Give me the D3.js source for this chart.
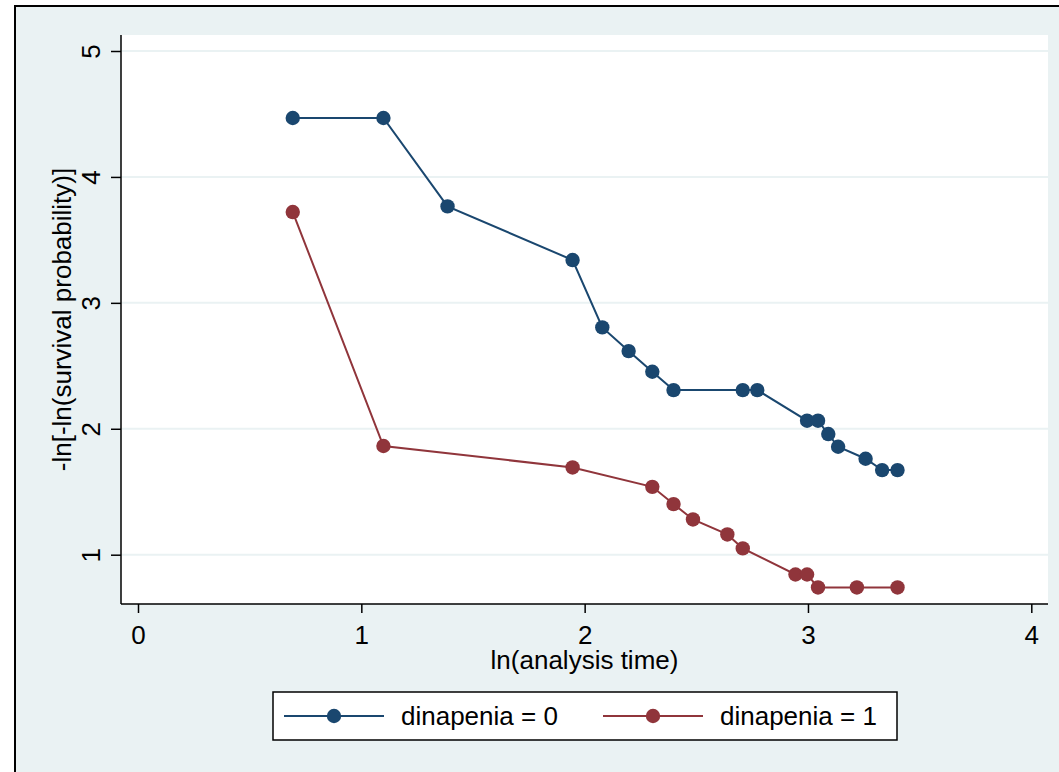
<!DOCTYPE html>
<html>
<head>
<meta charset="utf-8">
<script src="https://cdn.jsdelivr.net/npm/d3@7"></script>
<style>
  html, body { margin: 0; padding: 0; background: #ffffff; }
  svg { display: block; }
  text { font-family: "Liberation Sans", Arial, sans-serif; fill: #000; }
</style>
</head>
<body>
<svg id="chart" width="1059" height="772"></svg>
<script>
// ---- data (x = ln(analysis time), y = -ln[-ln(survival probability)]) ----
const seriesNames = ["dinapenia = 0", "dinapenia = 1"];
const xTicks = [0, 1, 2, 3, 4];
const yTicks = [1, 2, 3, 4, 5];
const x0 = [0.693, 1.099, 1.386, 1.946, 2.079, 2.197, 2.303, 2.398, 2.708, 2.773, 2.996, 3.045, 3.091, 3.135, 3.258, 3.332, 3.401];
const y0 = [4.468, 4.468, 3.766, 3.340, 2.805, 2.617, 2.453, 2.307, 2.307, 2.307, 2.064, 2.064, 1.958, 1.857, 1.762, 1.672, 1.672];
const x1 = [0.693, 1.099, 1.946, 2.303, 2.398, 2.485, 2.639, 2.708, 2.944, 2.996, 3.045, 3.219, 3.401];
const y1 = [3.721, 1.863, 1.693, 1.539, 1.402, 1.280, 1.161, 1.050, 0.843, 0.843, 0.740, 0.740, 0.740];
const colors = ["#1A476F", "#90353B"];

const series = [
  { name: seriesNames[0], pts: x0.map((v, i) => [v, y0[i]]), color: colors[0] },
  { name: seriesNames[1], pts: x1.map((v, i) => [v, y1[i]]), color: colors[1] }
];

const svg = d3.select("#chart");
const bg = "#EAF2F3";
const fs = 26;

// outer frame
svg.append("rect").attr("x", 15).attr("y", 6).attr("width", 1100).attr("height", 820)
  .attr("fill", bg).attr("stroke", "#000").attr("stroke-width", 2);

// plot region
const P = { left: 121, right: 1048, top: 35, bottom: 604 };
svg.append("rect").attr("x", P.left).attr("y", P.top)
  .attr("width", P.right - P.left).attr("height", P.bottom - P.top).attr("fill", "#fff");

const x = d3.scaleLinear().domain([0, 4]).range([138, 1031.3]);
const y = d3.scaleLinear().domain([1, 5]).range([554.7, 51]);

// gridlines
svg.append("g").selectAll("line").data(yTicks).join("line")
  .attr("x1", P.left).attr("x2", P.right)
  .attr("y1", d => y(d)).attr("y2", d => y(d))
  .attr("stroke", bg).attr("stroke-width", 2);

// series
const line = d3.line().x(d => x(d[0])).y(d => y(d[1]));
series.forEach(s => {
  svg.append("path").datum(s.pts).attr("d", line)
    .attr("fill", "none").attr("stroke", s.color).attr("stroke-width", 2);
  svg.append("g").selectAll("circle").data(s.pts).join("circle")
    .attr("cx", d => x(d[0])).attr("cy", d => y(d[1])).attr("r", 7.2)
    .attr("fill", s.color);
});

// y axis
const yAxis = svg.append("g").attr("transform", `translate(${P.left},0)`)
  .call(d3.axisLeft(y).tickValues(yTicks).tickSize(10).tickPadding(0).tickFormat(d3.format("d")));
yAxis.select(".domain").remove();
yAxis.selectAll(".tick line").attr("stroke", "#000").attr("stroke-width", 1.5);
yAxis.selectAll(".tick text").attr("x", null).attr("dy", null)
  .attr("font-size", fs).attr("text-anchor", "middle")
  .attr("transform", "translate(-21,0) rotate(-90)");
svg.append("line").attr("x1", P.left).attr("x2", P.left).attr("y1", P.top).attr("y2", P.bottom)
  .attr("stroke", "#000").attr("stroke-width", 1.5);

// x axis
const xAxis = svg.append("g").attr("transform", `translate(0,${P.bottom})`)
  .call(d3.axisBottom(x).tickValues(xTicks).tickSize(9).tickPadding(0).tickFormat(d3.format("d")));
xAxis.select(".domain").remove();
xAxis.selectAll(".tick line").attr("stroke", "#000").attr("stroke-width", 1.5);
xAxis.selectAll(".tick text").attr("y", 40).attr("dy", null).attr("font-size", fs);
svg.append("line").attr("x1", P.left).attr("x2", P.right).attr("y1", P.bottom).attr("y2", P.bottom)
  .attr("stroke", "#000").attr("stroke-width", 1.5);
svg.selectAll(".tick text").attr("font-family", '"Liberation Sans", Arial, sans-serif').attr("fill", "#000");

// axis titles
svg.append("text").attr("x", (P.left + P.right) / 2).attr("y", 669)
  .attr("text-anchor", "middle").attr("font-size", fs).text("ln(analysis time)");
svg.append("text").attr("transform", `translate(71,${(P.top + P.bottom) / 2}) rotate(-90)`)
  .attr("text-anchor", "middle").attr("font-size", fs).text("-ln[-ln(survival probability)]");

// legend
const leg = svg.append("g");
leg.append("rect").attr("x", 273).attr("y", 692).attr("width", 624).attr("height", 48)
  .attr("fill", "#fff").attr("stroke", "#000").attr("stroke-width", 1.5);
const legX = [284, 603];
series.forEach((s, i) => {
  const lx = legX[i];
  leg.append("line").attr("x1", lx).attr("x2", lx + 100).attr("y1", 716).attr("y2", 716)
    .attr("stroke", s.color).attr("stroke-width", 2);
  leg.append("circle").attr("cx", lx + 50).attr("cy", 716).attr("r", 7.2).attr("fill", s.color);
  leg.append("text").attr("x", lx + 117).attr("y", 725).attr("font-size", fs).text(s.name);
});
</script>
</body>
</html>
